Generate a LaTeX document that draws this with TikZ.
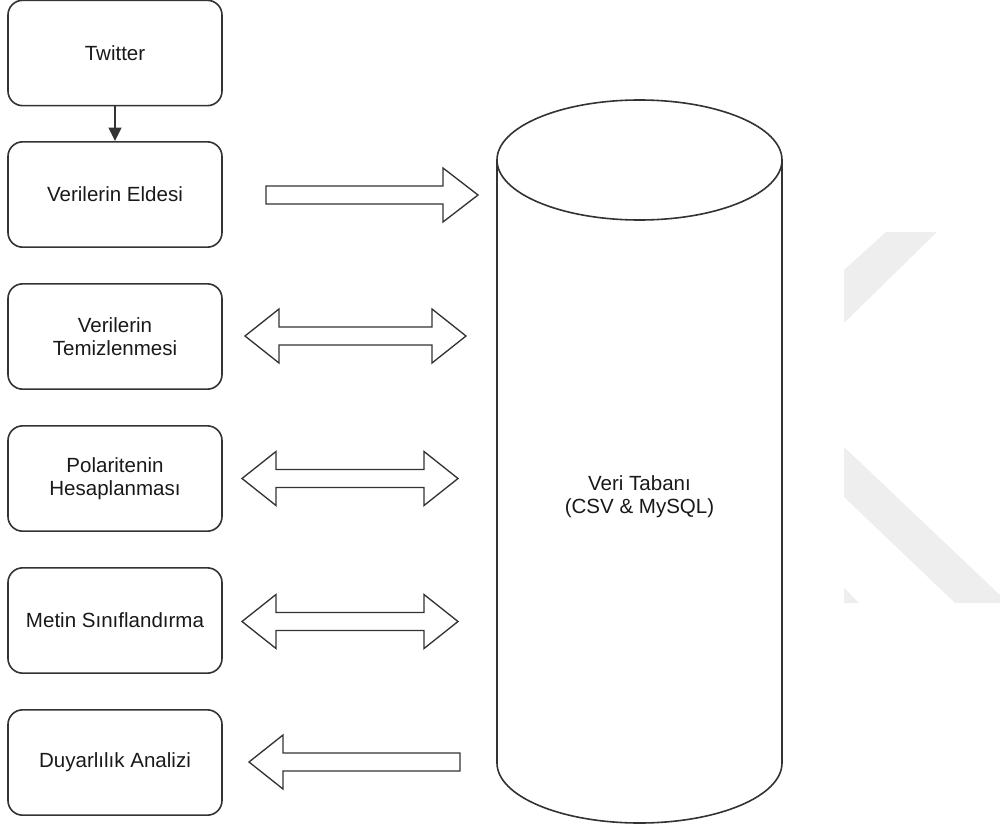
\documentclass[tikz,border=0pt]{standalone}
\usepackage{fontspec}
\setmainfont{Liberation Sans}
\usetikzlibrary{arrows.meta}
\definecolor{wmgray}{RGB}{238,238,238}
\definecolor{linegray}{RGB}{51,51,51}
\newcommand{\arrowright}[3]{\draw[blockarrow] ( #1 , #3-9 ) -- ( #2-35 , #3-9 ) -- ( #2-35 , #3-27 ) -- ( #2 , #3 ) -- ( #2-35 , #3+27 ) -- ( #2-35 , #3+9 ) -- ( #1 , #3+9 ) -- cycle;}
\newcommand{\arrowboth}[3]{\draw[blockarrow] ( #1 , #3 ) -- ( #1+34 , #3-27 ) -- ( #1+34 , #3-9 ) -- ( #2-34 , #3-9 ) -- ( #2-34 , #3-27 ) -- ( #2 , #3 ) -- ( #2-34 , #3+27 ) -- ( #2-34 , #3+9 ) -- ( #1+34 , #3+9 ) -- ( #1+34 , #3+27 ) -- cycle;}
\newcommand{\arrowleft}[3]{\draw[blockarrow] ( #1 , #3 ) -- ( #1+34 , #3-27 ) -- ( #1+34 , #3-9 ) -- ( #2 , #3-9 ) -- ( #2 , #3+9 ) -- ( #1+34 , #3+9 ) -- ( #1+34 , #3+27 ) -- cycle;}

\begin{document}
\begin{tikzpicture}[x=0.75pt, y=-0.75pt,
    stagebox/.style={draw=linegray, line width=1.2pt, rounded corners=11pt,
        minimum width=160.5pt, minimum height=79pt, align=center,
        font=\fontsize{15.4}{17.3}\selectfont, text=black!90},
    blockarrow/.style={draw=linegray, line width=1pt, fill=white, line join=miter},
    dbline/.style={draw=linegray, line width=1.2pt}]
        \useasboundingbox (0,0) rectangle (1000,828);
        % watermark
        \fill[wmgray] (844,270) -- (886,232) -- (937,232) -- (844,323) -- cycle;
        \fill[wmgray] (844,447) -- (1000,595) -- (1000,603) -- (955,603) -- (844,497) -- cycle;
        \fill[wmgray] (844,588) -- (859,603) -- (844,603) -- cycle;
        % stages
        \node[stagebox] (twitter) at (115,53) {Twitter};
        \node[stagebox] (eldesi) at (115,194.5) {Verilerin Eldesi};
        \node[stagebox] (temizleme) at (115,336.5) {Verilerin\\Temizlenmesi};
        \node[stagebox] (polarite) at (115,478.5) {Polaritenin\\Hesaplanması};
        \node[stagebox] (siniflandirma) at (115,620.5) {Metin Sınıflandırma};
        \node[stagebox] (analiz) at (115,762.5) {Duyarlılık Analizi};
        \draw[linegray, line width=1.2pt, -{Triangle[length=10pt,width=9.5pt]}] (twitter) -- (eldesi);
        % database
        \draw[dbline] (497,160) -- (497,763) arc[start angle=180, end angle=0, x radius=142.5, y radius=60] -- (782,160);
        \draw[dbline] (639.5,160) ellipse[x radius=142.5, y radius=60];
        \node[align=center, font=\fontsize{15.4}{17.3}\selectfont, text=black!90] (veritabani) at (639.5,496.5) {Veri Tabanı\\(CSV \& MySQL)};
        % block arrows
        \arrowright{266}{478}{195}
        \arrowboth{245}{466}{336}
        \arrowboth{242}{458}{478.5}
        \arrowboth{242}{458}{621.5}
        \arrowleft{249}{460}{762}
\end{tikzpicture}
\end{document}
